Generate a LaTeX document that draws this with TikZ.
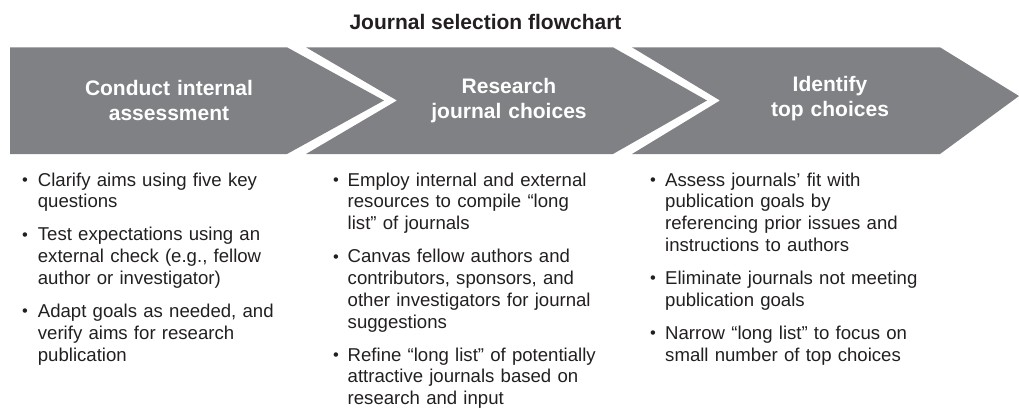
\documentclass[tikz,border=0pt]{standalone}
\usepackage{fontspec}
\setmainfont{Liberation Sans}
\definecolor{bandgray}{HTML}{808185}
\definecolor{ink}{HTML}{231F20}
\tikzset{
  chevron/.style={fill=bandgray, draw=none},
  titletext/.style={text=ink, font=\fontsize{21}{25}\selectfont\bfseries, inner sep=0pt, anchor=base},
  head/.style={text=white, font=\fontsize{21}{25}\selectfont\bfseries, align=center, text width=240pt, inner sep=0pt, anchor=base},
  item/.style={text=ink, font=\fontsize{18.6}{21.8}\selectfont, align=left, text width=300pt, inner sep=0pt, anchor=base west},
  bul/.style={text=ink, font=\fontsize{16.5}{16.5}\selectfont, inner sep=0pt, anchor=base},
}
\begin{document}
\begin{tikzpicture}[x=1pt,y=-1pt]
\useasboundingbox (0,0) rectangle (1019,408);
% title
\node[titletext] (title) at (485.5,29) {Journal selection flowchart};
% chevrons
\path[chevron] (10,47.3) -- (287,47.3) -- (384,100.5) -- (287,154) -- (10,154) -- cycle;
\path[chevron] (306,47.3) -- (613,47.3) -- (707,100.5) -- (613,154) -- (306,154) -- (397,100.5) -- cycle;
\path[chevron] (632,47.3) -- (940,47.3) -- (1019,96) -- (940,154) -- (632,154) -- (720,100.5) -- cycle;
% headers
\node[head] (h1) at (169,95) {Conduct internal\\assessment};
\node[head] (h2) at (509,93.3) {Research\\journal choices};
\node[head] (h3) at (830,91.7) {Identify\\top choices};
% column 1
\node[bul] (b11) at (25,185.5) {•};
\node[item] (t11) at (37.7,186) {Clarify aims using five key\\questions};
\node[bul] (b12) at (25,240.3) {•};
\node[item] (t12) at (37.7,240.8) {Test expectations using an\\external check (e.g., fellow\\author or investigator)};
\node[bul] (b13) at (25,316.9) {•};
\node[item] (t13) at (37.7,317.4) {Adapt goals as needed, and\\verify aims for research\\publication};
% column 2
\node[bul] (b21) at (336,185.5) {•};
\node[item] (t21) at (347.5,186) {Employ internal and external\\resources to compile “long\\list” of journals};
\node[bul] (b22) at (336,262.1) {•};
\node[item] (t22) at (347.5,262.6) {Canvas fellow authors and\\contributors, sponsors, and\\other investigators for journal\\suggestions};
\node[bul] (b23) at (336,360.5) {•};
\node[item] (t23) at (347.5,361) {Refine “long list” of potentially\\attractive journals based on\\research and input};
% column 3
\node[bul] (b31) at (653,185.5) {•};
\node[item] (t31) at (665,186) {Assess journals’ fit with\\publication goals by\\referencing prior issues and\\instructions to authors};
\node[bul] (b32) at (653,283.9) {•};
\node[item] (t32) at (665,284.4) {Eliminate journals not meeting\\publication goals};
\node[bul] (b33) at (653,338.7) {•};
\node[item] (t33) at (665,339.2) {Narrow “long list” to focus on\\small number of top choices};
\end{tikzpicture}
\end{document}
